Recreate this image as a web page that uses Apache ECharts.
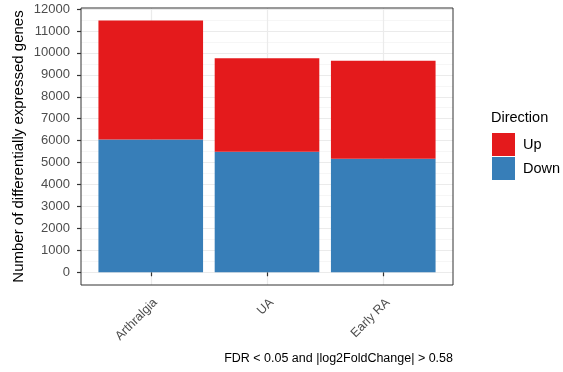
<!DOCTYPE html>
<html>
<head>
<meta charset="utf-8">
<script src="https://cdn.jsdelivr.net/npm/echarts@6.0.0/dist/echarts.min.js"></script>
<style>
  html, body { margin: 0; padding: 0; background: #fff; }
  #chart { width: 563px; height: 372px; }
</style>
</head>
<body>
<div id="chart"></div>
<script>
var categories = ['Arthralgia', 'UA', 'Early RA'];
var downValues = [6050, 5490, 5170];
var upValues = [5430, 4260, 4470];
var yTicks = [0, 1000, 2000, 3000, 4000, 5000, 6000, 7000, 8000, 9000, 10000, 11000, 12000];
var yMinor = [500, 1500, 2500, 3500, 4500, 5500, 6500, 7500, 8500, 9500, 10500, 11500];
var xTicks = [1, 2, 3];

var font = 'Liberation Sans';

// panel edges (px); ggplot pads a discrete axis by 0.6 of a step on each side
var panelLeft = 81, panelRight = 110, panelTop = 8, panelBottom = 87;
var step = (563 - panelLeft - panelRight) / 3.2;
var yMin = -580, yMax = 12046;

var chart = echarts.init(document.getElementById('chart'));

var option = {
	animation: false,
	backgroundColor: '#fff',
	textStyle: { fontFamily: font },
	grid: [{
		// panel: border, grid lines, axes
		left: panelLeft, right: panelRight, top: panelTop, bottom: panelBottom,
		show: true,
		borderColor: '#333333',
		borderWidth: 1,
		backgroundColor: 'transparent',
		z: 3
	}, {
		// bars: inset so each category band equals one step
		left: panelLeft + step * 0.1, right: panelRight + step * 0.1,
		top: panelTop, bottom: panelBottom
	}],
	title: [{
		text: 'FDR < 0.05 and |log2FoldChange| > 0.58',
		right: 110,
		top: 352,
		padding: 0,
		textStyle: { fontSize: 12.5, fontWeight: 'normal', color: '#000', fontFamily: font }
	}, {
		text: 'Direction',
		left: 491,
		top: 110,
		padding: 0,
		textStyle: { fontSize: 14.5, fontWeight: 'normal', color: '#000', fontFamily: font }
	}],
	legend: {
		orient: 'vertical',
		left: 492,
		top: 133,
		padding: 0,
		itemWidth: 23,
		itemHeight: 23,
		itemGap: 1,
		icon: 'rect',
		data: ['Up', 'Down'],
		textStyle: { fontSize: 14.5, color: '#000', fontFamily: font, padding: [0, 0, 0, 3] }
	},
	xAxis: [{
		gridIndex: 0,
		type: 'value',
		min: 0.4,
		max: 3.6,
		axisLine: { show: false },
		axisTick: {
			show: true,
			customValues: xTicks,
			length: 4,
			lineStyle: { color: '#333333', width: 1.2 }
		},
		axisLabel: {
			customValues: xTicks,
			rotate: 45,
			margin: 11,
			verticalAlign: 'top',
			fontSize: 12.5,
			color: '#4d4d4d',
			fontFamily: font,
			formatter: function(v) { return categories[Math.round(v) - 1]; }
		},
		splitLine: { show: true, lineStyle: { color: '#ebebeb', width: 1.2 } }
	}, {
		gridIndex: 1,
		type: 'category',
		data: categories,
		show: false
	}],
	yAxis: [{
		gridIndex: 0,
		type: 'value',
		min: yMin,
		max: yMax,
		name: 'Number of differentially expressed genes',
		nameLocation: 'middle',
		nameGap: 55,
		nameMoveOverlap: false,
		nameTextStyle: { fontSize: 15, color: '#000', fontFamily: font },
		axisLine: { show: false },
		axisTick: {
			show: true,
			customValues: yTicks,
			length: 4,
			lineStyle: { color: '#333333', width: 1.2 }
		},
		axisLabel: {
			customValues: yTicks,
			margin: 11,
			fontSize: 13,
			color: '#4d4d4d',
			fontFamily: font,
			formatter: function(v) { return String(Math.round(v)); }
		},
		splitLine: { show: true, lineStyle: { color: '#ebebeb', width: 1.2 } }
	}, {
		gridIndex: 0,
		type: 'value',
		min: yMin,
		max: yMax,
		axisLine: { show: false },
		axisTick: { show: false, customValues: yMinor },
		axisLabel: { show: false, customValues: yMinor },
		splitLine: { show: true, lineStyle: { color: '#f2f2f2', width: 0.7 } }
	}, {
		gridIndex: 1,
		type: 'value',
		min: yMin,
		max: yMax,
		show: false,
		splitLine: { show: false }
	}],
	series: [{
		name: 'Down',
		type: 'bar',
		stack: 'total',
		xAxisIndex: 1,
		yAxisIndex: 2,
		barCategoryGap: '10%',
		itemStyle: { color: '#377EB8' },
		data: downValues
	}, {
		name: 'Up',
		type: 'bar',
		stack: 'total',
		xAxisIndex: 1,
		yAxisIndex: 2,
		barCategoryGap: '10%',
		itemStyle: { color: '#E41A1C' },
		data: upValues
	}]
};

chart.setOption(option);
</script>
</body>
</html>
